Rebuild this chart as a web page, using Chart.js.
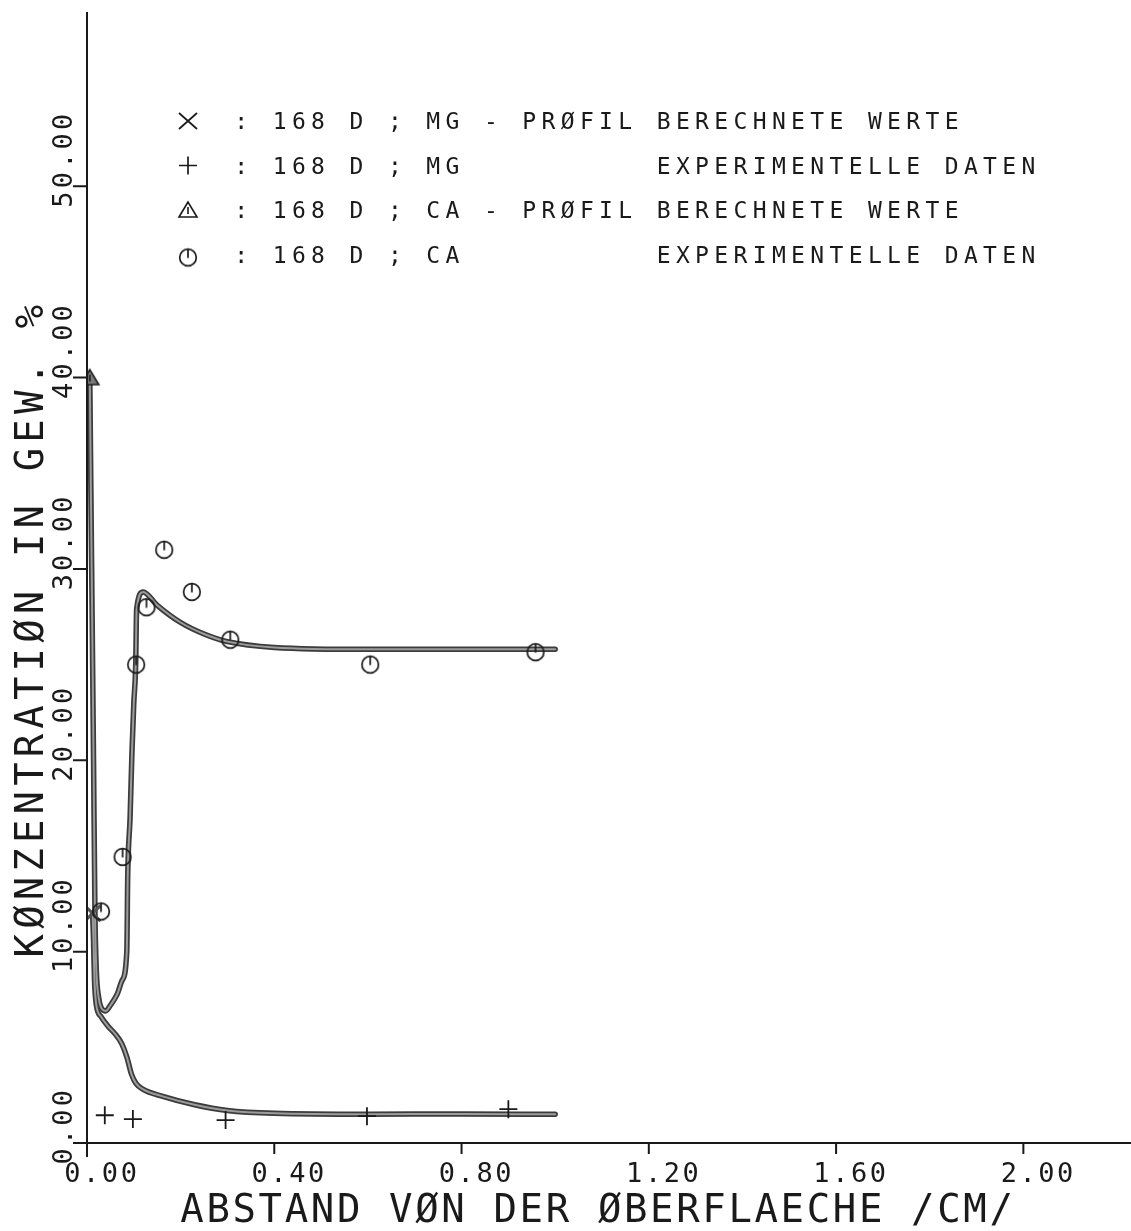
<!DOCTYPE html>
<html>
<head>
<meta charset="utf-8">
<script src="https://cdn.jsdelivr.net/npm/chart.js@4.4.1/dist/chart.umd.min.js"></script>
<style>
html, body { margin: 0; padding: 0; background: #ffffff; }
#chart { display: block; }
</style>
</head>
<body>
<canvas id="chart" width="1131" height="1231"></canvas>
<script>
// 168 D, MG - profil (berechnete werte)
var mgProfilX = [0.012, 0.014, 0.016, 0.020, 0.030, 0.045, 0.060, 0.074, 0.085, 0.095, 0.105, 0.120, 0.160, 0.230, 0.300, 0.400, 0.600, 0.800, 1.000];
var mgProfilY = [12.0, 10.5, 8.5, 7.2, 6.6, 6.1, 5.7, 5.2, 4.5, 3.6, 3.1, 2.8, 2.45, 2.0, 1.7, 1.55, 1.5, 1.52, 1.5];

// 168 D, CA - profil (berechnete werte)
var caProfilX = [0.006, 0.010, 0.014, 0.017, 0.020, 0.025, 0.032, 0.040, 0.050, 0.065, 0.075, 0.085, 0.087, 0.092, 0.096, 0.100, 0.104, 0.106, 0.120, 0.150, 0.200, 0.250, 0.300, 0.400, 0.600, 1.000];
var caProfilY = [40.0, 30.0, 20.0, 12.0, 9.0, 7.6, 7.0, 6.9, 7.2, 7.8, 8.5, 10.0, 14.0, 17.0, 20.4, 23.0, 25.0, 27.9, 28.8, 28.1, 27.2, 26.6, 26.2, 25.9, 25.8, 25.8];

// experimentelle daten
var mgExpX = [0.038, 0.098, 0.296, 0.598, 0.900];
var mgExpY = [1.45, 1.25, 1.2, 1.4, 1.77];
var caExpX = [0.030, 0.076, 0.105, 0.127, 0.165, 0.224, 0.306, 0.605, 0.958];
var caExpY = [12.1, 14.95, 25.0, 28.0, 31.0, 28.8, 26.3, 25.0, 25.65];

var xTicks = [0, 0.4, 0.8, 1.2, 1.6, 2.0];
var xTickLabels = ['0.00', '0.40', '0.80', '1.20', '1.60', '2.00'];
var yTicks = [0, 10, 20, 30, 40, 50];
var yTickLabels = ['0.00', '10.00', '20.00', '30.00', '40.00', '50.00'];

var xTitle = 'ABSTAND VØN DER ØBERFLAECHE /CM/';
var yTitle = 'KØNZENTRATIØN IN GEW. %';

var legendSymbols = ['x', '+', 'tri', 'circ'];
var legendLeft = [': 168 D ; MG - PRØFIL', ': 168 D ; MG', ': 168 D ; CA - PRØFIL', ': 168 D ; CA'];
var legendRight = ['BERECHNETE WERTE', 'EXPERIMENTELLE DATEN', 'BERECHNETE WERTE', 'EXPERIMENTELLE DATEN'];

var INK = '#1a1a1a';
var PEN_EDGE = '#3c3c3c';
var PEN_FILL = '#9c9c9c';
var MONO = '"DejaVu Sans Mono", "Liberation Mono", monospace';

function toPoints(xs, ys) {
  var out = [];
  for (var i = 0; i < xs.length; i++) out.push({x: xs[i], y: ys[i]});
  return out;
}

// small canvases used as point styles
function circleMarker() {
  var c = document.createElement('canvas');
  c.width = 24; c.height = 24;
  var g = c.getContext('2d');
  g.strokeStyle = INK; g.lineWidth = 1.7;
  g.beginPath(); g.arc(12, 12, 8.3, 0, 2 * Math.PI); g.stroke();
  g.beginPath(); g.moveTo(12, 4); g.lineTo(12, 12.5); g.stroke();
  return c;
}
function triangleMarker(filled) {
  var c = document.createElement('canvas');
  c.width = 24; c.height = 24;
  var g = c.getContext('2d');
  g.strokeStyle = INK; g.lineWidth = 1.6;
  g.beginPath(); g.moveTo(12, 4); g.lineTo(3, 19); g.lineTo(21, 19); g.closePath();
  if (filled) { g.fillStyle = '#7a7a7a'; g.fill(); }
  g.stroke();
  g.beginPath(); g.moveTo(12, 9); g.lineTo(12, 16); g.stroke();
  return c;
}
var circImg = circleMarker();
var triImg = triangleMarker(false);
var triFilled = triangleMarker(true);

function firstOnly(r) {
  return function (ctx) { return ctx.dataIndex === 0 ? r : 0; };
}

// plotter-like monospaced text, one glyph per cell
function drawMono(ctx, text, x, y, adv) {
  for (var i = 0; i < text.length; i++) {
    var ch = text.charAt(i);
    if (ch === ' ') continue;
    ctx.fillText(ch, x + i * adv + adv / 2, y);
  }
}
function drawMonoUp(ctx, text, x, y, adv) {
  ctx.save();
  ctx.translate(x, y);
  ctx.rotate(-Math.PI / 2);
  drawMono(ctx, text, 0, 0, adv);
  ctx.restore();
}

var plotterAxes = {
  id: 'plotterAxes',
  afterDraw: function (chart) {
    var ctx = chart.ctx;
    var xs = chart.scales.x, ys = chart.scales.y;
    var x0 = xs.getPixelForValue(0), y0 = ys.getPixelForValue(0);
    ctx.save();
    ctx.strokeStyle = INK;
    ctx.fillStyle = INK;
    ctx.lineWidth = 2;
    ctx.lineCap = 'butt';

    // axis lines
    ctx.beginPath();
    ctx.moveTo(x0, chart.chartArea.top - 2);
    ctx.lineTo(x0, y0 + 14);
    ctx.moveTo(x0 - 14, y0);
    ctx.lineTo(chart.width, y0);
    ctx.stroke();

    // tick marks
    ctx.beginPath();
    for (var i = 1; i < yTicks.length; i++) {
      var py = ys.getPixelForValue(yTicks[i]);
      ctx.moveTo(x0 - 14, py); ctx.lineTo(x0, py);
    }
    for (var j = 1; j < xTicks.length; j++) {
      var px = xs.getPixelForValue(xTicks[j]);
      ctx.moveTo(px, y0); ctx.lineTo(px, y0 + 11);
    }
    ctx.stroke();

    ctx.textAlign = 'center';
    ctx.textBaseline = 'alphabetic';

    // tick labels
    ctx.font = '27px ' + MONO;
    for (var k = 0; k < xTicks.length; k++) {
      drawMono(ctx, xTickLabels[k], xs.getPixelForValue(xTicks[k]) - 24, y0 + 39, 18.8);
    }
    for (var m = 0; m < yTicks.length; m++) {
      drawMonoUp(ctx, yTickLabels[m], 72, ys.getPixelForValue(yTicks[m]) + 23, 19.4);
    }

    // axis titles
    ctx.font = '39px ' + MONO;
    drawMono(ctx, xTitle, 179, 1222, 26.1);
    drawMonoUp(ctx, yTitle, 43, 960, 28.6);

    // legend
    ctx.font = '23px ' + MONO;
    for (var n = 0; n < legendLeft.length; n++) {
      var base = 129 + n * 44.5;
      var cy = base - 8;
      var sx = 188;
      drawMono(ctx, legendLeft[n], 231.6, base, 19.2);
      drawMono(ctx, legendRight[n], 231.6 + 22 * 19.2, base, 19.2);
      ctx.lineWidth = 1.7;
      ctx.beginPath();
      if (legendSymbols[n] === 'x') {
        ctx.moveTo(sx - 9, cy - 8); ctx.lineTo(sx + 9, cy + 8);
        ctx.moveTo(sx - 9, cy + 8); ctx.lineTo(sx + 9, cy - 8);
        ctx.stroke();
      } else if (legendSymbols[n] === '+') {
        ctx.moveTo(sx - 9, cy); ctx.lineTo(sx + 9, cy);
        ctx.moveTo(sx, cy - 9); ctx.lineTo(sx, cy + 9);
        ctx.stroke();
      } else if (legendSymbols[n] === 'tri') {
        ctx.drawImage(triImg, sx - 12, cy - 12);
      } else {
        ctx.drawImage(circImg, sx - 12, cy - 9);
      }
    }
    ctx.restore();
  }
};

// each computed profile is drawn twice: dark pen edge, lighter core
var profileLine = function (xs, ys, color, width, order) {
  return {
    data: toPoints(xs, ys),
    showLine: true,
    borderColor: color,
    borderWidth: width,
    cubicInterpolationMode: 'monotone',
    pointRadius: 0,
    order: order
  };
};

var mgEdge = profileLine(mgProfilX, mgProfilY, PEN_EDGE, 5.5, 3);
var caEdge = profileLine(caProfilX, caProfilY, PEN_EDGE, 5.5, 3);
var mgCore = profileLine(mgProfilX, mgProfilY, PEN_FILL, 2, 2);
var caCore = profileLine(caProfilX, caProfilY, PEN_FILL, 2, 2);

mgCore.label = '168 D ; MG - PRØFIL BERECHNETE WERTE';
mgCore.pointStyle = 'crossRot';
mgCore.pointRadius = firstOnly(11);
mgCore.pointBorderWidth = 3;
mgCore.pointBorderColor = '#555555';

caCore.label = '168 D ; CA - PRØFIL BERECHNETE WERTE';
caCore.pointStyle = triFilled;
caCore.pointRadius = firstOnly(10);

var chart = new Chart(document.getElementById('chart'), {
  type: 'scatter',
  data: {
    datasets: [
      mgEdge, caEdge, mgCore, caCore,
      {
        label: '168 D ; MG EXPERIMENTELLE DATEN',
        data: toPoints(mgExpX, mgExpY),
        showLine: false,
        pointStyle: 'cross',
        pointRadius: 9,
        pointBorderWidth: 1.8,
        pointBorderColor: INK,
        order: 1
      },
      {
        label: '168 D ; CA EXPERIMENTELLE DATEN',
        data: toPoints(caExpX, caExpY),
        showLine: false,
        pointStyle: circImg,
        pointRadius: 9,
        order: 1
      }
    ]
  },
  options: {
    responsive: false,
    animation: false,
    devicePixelRatio: 1,
    layout: { padding: { left: 87, top: 7, right: 3, bottom: 88 } },
    scales: {
      x: { type: 'linear', min: 0, max: 2.2, display: false },
      y: { type: 'linear', min: 0, max: 59, display: false }
    },
    plugins: {
      legend: { display: false },
      tooltip: { enabled: false }
    },
    elements: { line: { borderCapStyle: 'round', borderJoinStyle: 'round' } }
  },
  plugins: [plotterAxes]
});
</script>
</body>
</html>
